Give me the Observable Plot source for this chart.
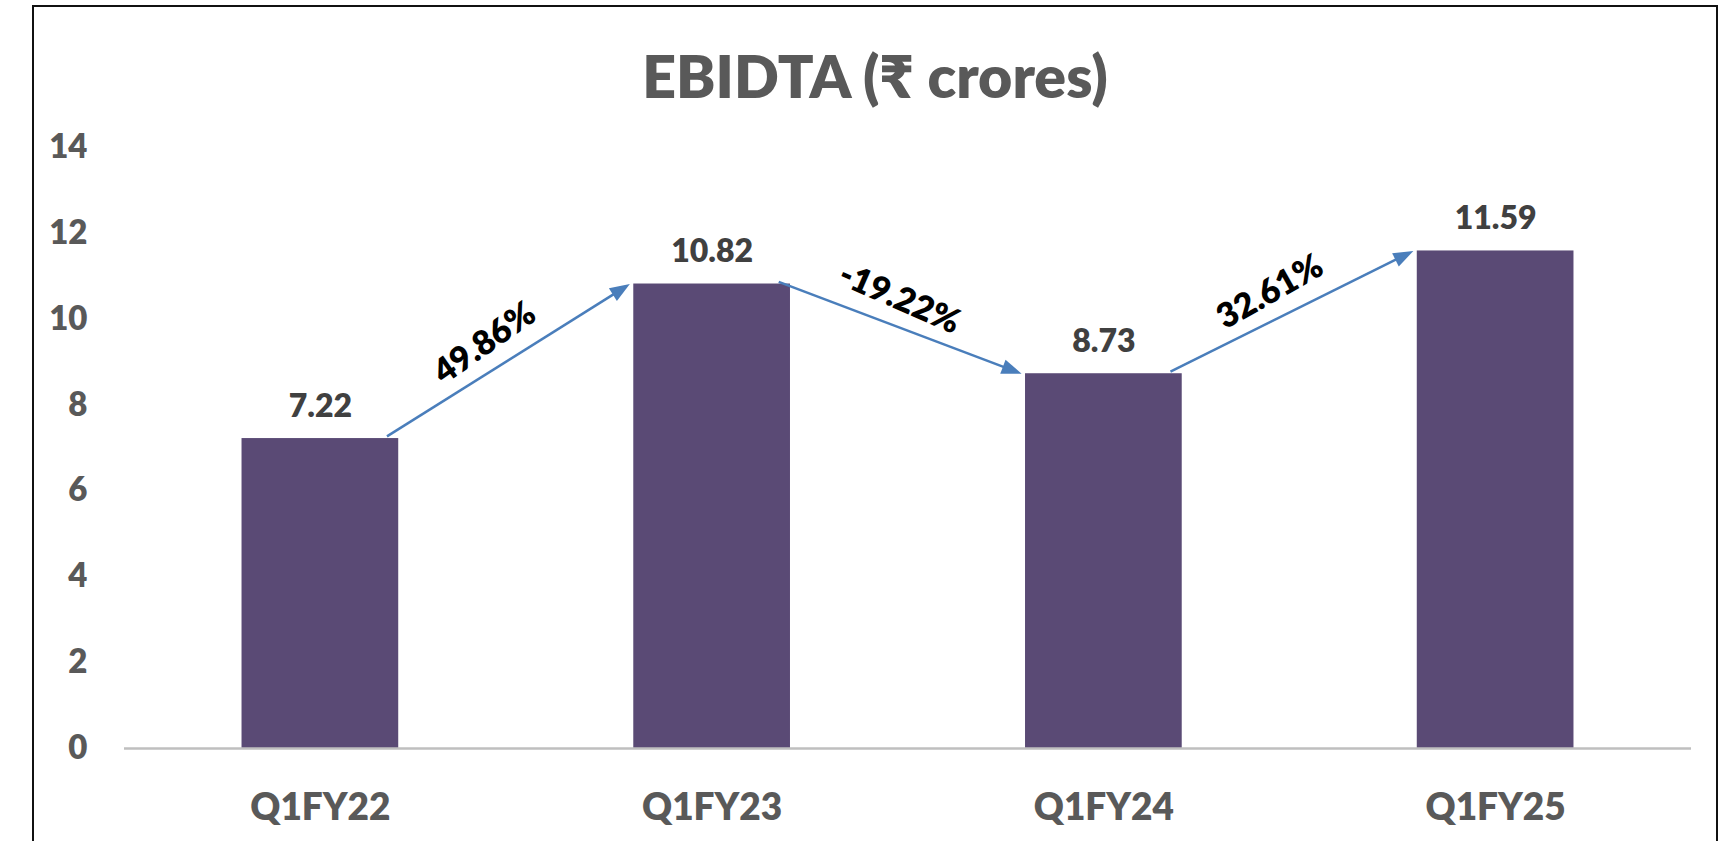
<!DOCTYPE html>
<html><head><meta charset="utf-8">
<script src="https://cdn.jsdelivr.net/npm/d3@7"></script>
<script src="https://cdn.jsdelivr.net/npm/@observablehq/plot@0.6"></script>
<style>
body{margin:0;background:#fff;}
#wrap{position:relative;width:1722px;height:841px;overflow:hidden;background:#fff;}
#frame{position:absolute;left:32px;top:5px;width:1686px;height:900px;border:2px solid #111;box-sizing:border-box;}
#title{position:absolute;left:34px;width:1682px;top:46px;text-align:center;font:800 59px Lato, "Noto Sans", sans-serif;line-height:59px;color:#595959;white-space:nowrap;}
#chart{position:absolute;left:0;top:110px;}
</style></head><body>
<div id="wrap"><div id="frame"></div><div id="title">EBIDTA (₹ crores)</div><div id="chart"></div></div>
<script>
const categories = ["Q1FY22", "Q1FY23", "Q1FY24", "Q1FY25"];
const values = [7.22, 10.82, 8.73, 11.59];
const valueLabels = ["7.22", "10.82", "8.73", "11.59"];
const growthLabels = ["49.86%", "-19.22%", "32.61%"];
const yTicks = [0, 2, 4, 6, 8, 10, 12, 14];

const W = 1722, H = 731, mL = 124, mR = 31, mT = 37, mB = 93;
const xDomain = [-0.5, categories.length - 0.5];
const yDomain = [0, 14];
const xs = Plot.scale({x: {type: "linear", domain: xDomain, range: [mL, W - mR]}});
const ys = Plot.scale({y: {type: "linear", domain: yDomain, range: [H - mB, mT]}});

const bars = categories.map((c, i) => ({i, c, v: values[i], label: valueLabels[i]}));

const HEAD = 20;
const arrows = growthLabels.map((g, j) => {
  const x1 = j + 0.17, y1 = values[j] + 0.05;
  const x2 = j + 1 - 0.21, y2 = values[j + 1];
  const p1 = [xs.apply(x1), ys.apply(y1)], p2 = [xs.apply(x2), ys.apply(y2)];
  const dx = p2[0] - p1[0], dy = p2[1] - p1[1];
  const len = Math.hypot(dx, dy);
  const ux = dx / len, uy = dy / len;
  const nx = uy, ny = -ux; // upward normal
  const mx = (p1[0] + p2[0]) / 2, my = (p1[1] + p2[1]) / 2;
  const along = -11, normal = 27;
  const lx = mx + along * ux + normal * nx, ly = my + along * uy + normal * ny;
  const ang = Math.atan2(dy, dx) * 180 / Math.PI;
  const hbx = p2[0] - ux * (HEAD - 2), hby = p2[1] - uy * (HEAD - 2);
  return {
    label: g, x1, y1, x2, y2,
    hx: xs.invert(hbx), hy: ys.invert(hby),
    rot: Math.atan2(dx, -dy) * 180 / Math.PI,
    lx: xs.invert(lx), ly: ys.invert(ly),
    trot: Math.sign(ang) * (Math.abs(ang) + 3)
  };
});

const triangle = {
  draw(context, l) {
    const w = 7.5;
    context.moveTo(0, -l);
    context.lineTo(-w, 0);
    context.lineTo(w, 0);
    context.closePath();
  }
};

const font = "Lato, 'Noto Sans', sans-serif";
const chart = Plot.plot({
  width: W, height: H,
  marginLeft: mL, marginRight: mR, marginTop: mT, marginBottom: mB,
  x: {type: "linear", domain: xDomain},
  y: {domain: yDomain},
  style: {fontFamily: font, background: "transparent", overflow: "visible"},
  marks: [
    Plot.rectY(bars, {x1: d => d.i - 0.2, x2: d => d.i + 0.2, y: "v", fill: "#5a4a75"}),
    Plot.ruleY([0], {stroke: "#bfbfbf", strokeWidth: 2.5}),
    Plot.axisY({ticks: yTicks, tickSize: 0, tickPadding: 37, fontSize: 33, fontWeight: 800, color: "#595959", label: null, fontFamily: font}),
    Plot.axisX({ticks: categories.map((c, i) => i), tickFormat: i => categories[i], tickSize: 0, tickPadding: 45, fontSize: 37, fontWeight: 800, color: "#595959", label: null, fontFamily: font}),
    Plot.text(bars, {x: "i", y: "v", text: "label", dy: -32, fill: "#404040", fontSize: 32, fontWeight: 800, fontFamily: font}),
    Plot.link(arrows, {x1: "x1", y1: "y1", x2: "hx", y2: "hy", stroke: "#4a7ebb", strokeWidth: 2.5}),
    Plot.vector(arrows, {x: "x2", y: "y2", rotate: "rot", length: HEAD, anchor: "end", shape: triangle, fill: "#4a7ebb", stroke: "none"}),
    Plot.text(arrows, {x: "lx", y: "ly", text: "label", rotate: "trot", fill: "#000", fontSize: 34, fontWeight: 800, fontFamily: font})
  ]
});
document.getElementById("chart").appendChild(chart);
</script>
</body></html>
